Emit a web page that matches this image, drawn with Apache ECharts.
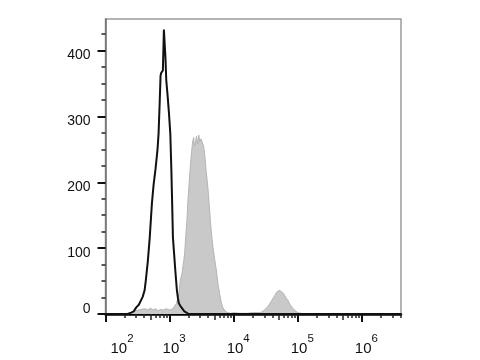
<!DOCTYPE html>
<html>
<head>
<meta charset="utf-8">
<script src="https://cdn.jsdelivr.net/npm/echarts@6/dist/echarts.min.js"></script>
<style>html,body{margin:0;padding:0;background:#fff;}#c{width:480px;height:360px;}</style>
</head>
<body>
<div id="c"></div>
<script>
// x values are decades: log10(fluorescence intensity)
const blackX = [2.0, 2.30, 2.344, 2.40, 2.44, 2.48, 2.52, 2.54, 2.58, 2.61, 2.63, 2.645, 2.66, 2.69, 2.724, 2.75, 2.78, 2.81, 2.828, 2.845, 2.859, 2.868, 2.895, 2.911, 2.92, 2.935, 2.948, 2.97, 2.99, 3.011, 3.027, 3.04, 3.052, 3.07, 3.089, 3.114, 3.13, 3.145, 3.17, 3.2, 3.23, 3.26, 3.3, 6.61];
const blackY = [0, 0, 0, 2, 4, 10, 14, 17, 26, 36, 52, 66, 80, 116, 168, 196, 220, 248, 274, 320, 362, 366, 370, 432, 431, 390, 355, 330, 305, 274, 221, 168, 116, 92, 66, 36, 24, 16, 12, 9, 4, 1, 0, 0];

const greyX = [2.0, 2.36, 2.40, 2.43, 2.47, 2.50, 2.55, 2.58, 2.62, 2.66, 2.70, 2.74, 2.78, 2.82, 2.86, 2.90, 2.95, 3.0, 3.05, 3.08, 3.105, 3.13, 3.145, 3.167, 3.19, 3.20, 3.22, 3.234, 3.25, 3.27, 3.285, 3.30, 3.32, 3.34, 3.36, 3.375, 3.39, 3.406, 3.42, 3.44, 3.455, 3.47, 3.49, 3.51, 3.53, 3.547, 3.57, 3.598, 3.615, 3.636, 3.655, 3.677, 3.70, 3.73, 3.755, 3.78, 3.805, 3.83, 3.87, 3.91, 3.95, 4.0, 4.1, 4.2, 4.3, 4.4, 4.433, 4.48, 4.51, 4.54, 4.5625, 4.59, 4.614, 4.64, 4.667, 4.69, 4.71, 4.73, 4.745, 4.76, 4.78, 4.797, 4.82, 4.85, 4.875, 4.90, 4.925, 4.95, 5.0, 5.05, 5.1, 6.61];
const greyY = [0, 0, 2, 3, 5, 4, 7, 5, 8, 6, 9, 6, 8, 5, 7, 6, 8, 6, 8, 10, 16, 24, 31, 51, 60, 66, 80, 91, 115, 142, 170, 192, 220, 243, 262, 268, 255, 262, 270, 258, 272, 262, 266, 268, 255, 243, 218, 191, 170, 142, 120, 101, 85, 66, 45, 31, 18, 10, 4, 2, 1, 2, 1, 1, 2, 2, 3, 6, 8, 12, 15, 20, 23, 28, 33, 30, 36, 39, 34, 36, 31, 30, 24, 20, 15, 13, 8, 5, 2, 1, 0, 0];

const xDecades = [2, 3, 4, 5, 6];          // tick labels 10^2 ... 10^6
const yTicks = [0, 100, 200, 300, 400];     // count tick labels
const yMinorTicks = [25, 50, 75, 125, 150, 175, 225, 250, 275, 325, 350, 375, 425];

const X_MIN = 2, X_MAX = 6.61, Y_MIN = 0, Y_MAX = 448;

const xMid = [], xMinor = [];
for (let n = 2; n <= 6; n++) {
  for (let k = 2; k <= 9; k++) {
    const v = n + Math.log10(k);
    if (v > X_MAX) continue;
    if (k === 5) xMid.push(v); else xMinor.push(v);
  }
}

const FONT = '"Liberation Sans", Arial, Helvetica, sans-serif';

function pairs(xs, ys) { return xs.map((x, i) => [x, ys[i]]); }

const baseX = {
  type: 'value', min: X_MIN, max: X_MAX, position: 'bottom',
  splitLine: { show: false }
};

const chart = echarts.init(document.getElementById('c'), null, { renderer: 'canvas' });
chart.setOption({
  animation: false,
  backgroundColor: '#ffffff',
  grid: { left: 105.5, right: 79, top: 19, bottom: 46, show: true, borderColor: '#9a9a9a', borderWidth: 1.5, backgroundColor: 'transparent' },
  xAxis: [
    Object.assign({}, baseX, {
      axisLine: { show: true, onZero: false, lineStyle: { color: '#000', width: 2.5 } },
      axisTick: { show: true, customValues: xDecades, length: 8, lineStyle: { color: '#111', width: 2 } },
      axisLabel: {
        show: true, customValues: xDecades, margin: 19,
        formatter: function (v) {
          const e = Math.round(v);
          return (e === 2 ? '{sp2| }' : '{sp| }') + '{b|10}{s|' + e + '}';
        },
        rich: {
          b: { fontSize: 15, fontFamily: FONT, color: '#111' },
          s: { fontSize: 11.5, fontFamily: FONT, color: '#111', padding: [0, 0, 20, 0] },
          sp: { width: 9, fontSize: 11.5 },
          sp2: { width: 33, fontSize: 11.5 }
        }
      }
    }),
    Object.assign({}, baseX, {
      axisLine: { show: false, onZero: false },
      axisTick: { show: true, customValues: xMid, length: 6, lineStyle: { color: '#222', width: 1.5 } },
      axisLabel: { show: false }
    }),
    Object.assign({}, baseX, {
      axisLine: { show: false, onZero: false },
      axisTick: { show: true, customValues: xMinor, length: 4, lineStyle: { color: '#222', width: 1.5 } },
      axisLabel: { show: false }
    })
  ],
  yAxis: [
    {
      type: 'value', min: Y_MIN, max: Y_MAX, position: 'left',
      splitLine: { show: false },
      axisLine: { show: true, onZero: false, lineStyle: { color: '#6e6e6e', width: 1.5 } },
      axisTick: { show: true, customValues: yTicks, length: 8, lineStyle: { color: '#111', width: 2 } },
      axisLabel: {
        show: true, customValues: yTicks, margin: 15,
        formatter: function (v) { return v === 0 ? '{z|0}' : '{n|' + v + '}'; },
        rich: {
          n: { fontSize: 14, fontFamily: FONT, color: '#111', padding: [10, 0, 0, 0] },
          z: { fontSize: 14, fontFamily: FONT, color: '#111', padding: [0, 0, 9, 0] }
        }
      }
    },
    {
      type: 'value', min: Y_MIN, max: Y_MAX, position: 'left',
      splitLine: { show: false },
      axisLine: { show: false, onZero: false },
      axisTick: { show: true, customValues: yMinorTicks, length: 4, lineStyle: { color: '#222', width: 1.5 } },
      axisLabel: { show: false }
    }
  ],
  series: [
    {
      type: 'line', name: 'stained', xAxisIndex: 0, yAxisIndex: 0,
      data: pairs(greyX, greyY), showSymbol: false, symbol: 'none',
      lineStyle: { color: '#b4b4b4', width: 1 },
      areaStyle: { color: '#c9c9c9', opacity: 1 },
      z: 2
    },
    {
      type: 'line', name: 'control', xAxisIndex: 0, yAxisIndex: 0,
      data: pairs(blackX, blackY), showSymbol: false, symbol: 'none',
      lineStyle: { color: '#111', width: 2 },
      z: 3
    }
  ]
});
</script>
</body>
</html>
